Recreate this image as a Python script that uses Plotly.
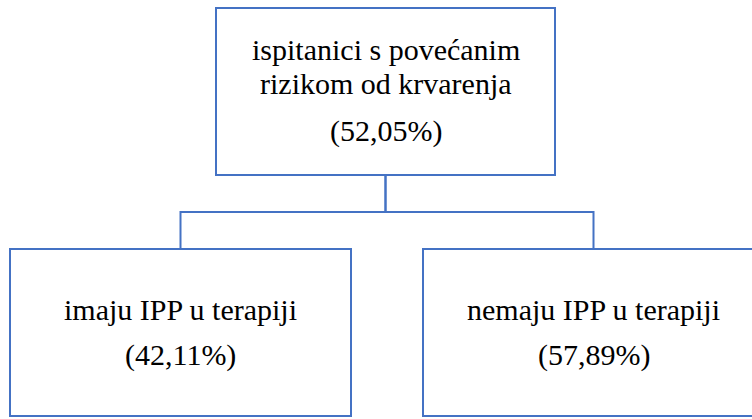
import plotly.graph_objects as go

# ---- data ----
node_titles = [["ispitanici s povećanim", "rizikom od krvarenja"],
               ["imaju IPP u terapiji"],
               ["nemaju IPP u terapiji"]]
node_percent = [52.05, 42.11, 57.89]
node_parent = [None, 0, 0]

# ---- layout constants (pixel space) ----
W, H = 752, 419
boxes = [(216, 8, 555, 175), (10, 249, 351, 416), (423, 249, 764, 416)]
title_baselines = [[60, 94], [320], [320]]
pct_baselines = [141, 365, 365]
bus_y = 212
LINE = "#4472C4"
FS = 30
FONT = dict(family="Liberation Serif, Times New Roman", size=FS, color="black")


def fmt(p):
    return "(" + f"{p:.2f}".replace(".", ",") + "%)"


fig = go.Figure()
fig.add_trace(go.Scatter(x=[0, W], y=[0, H], mode="markers",
                         marker=dict(opacity=0), hoverinfo="skip", showlegend=False))

shapes = []
for (x0, y0, x1, y1) in boxes:
    shapes.append(dict(type="rect", x0=x0, y0=y0, x1=x1, y1=y1,
                       line=dict(color=LINE, width=2), fillcolor="white", layer="below"))

# connectors
for i, par in enumerate(node_parent):
    if par is None:
        continue
    px = (boxes[par][0] + boxes[par][2]) / 2
    py = boxes[par][3]
    cx = (boxes[i][0] + boxes[i][2]) / 2
    cy = boxes[i][1]
    shapes.append(dict(type="path", path=f"M {px},{py} L {px},{bus_y} L {cx},{bus_y} L {cx},{cy}",
                       line=dict(color=LINE, width=2), layer="below"))

annotations = []
off = 0.34 * FS
for i, lines in enumerate(node_titles):
    cx = (boxes[i][0] + boxes[i][2]) / 2
    for t, b in zip(lines, title_baselines[i]):
        annotations.append(dict(x=cx, y=b - off, text=t, showarrow=False,
                                xanchor="center", yanchor="middle", font=FONT))
    annotations.append(dict(x=cx, y=pct_baselines[i] - off, text=fmt(node_percent[i]),
                            showarrow=False, xanchor="center", yanchor="middle", font=FONT))

fig.update_layout(
    width=W, height=H, margin=dict(l=0, r=0, t=0, b=0),
    paper_bgcolor="white", plot_bgcolor="white",
    xaxis=dict(range=[0, W], visible=False, fixedrange=True),
    yaxis=dict(range=[H, 0], visible=False, fixedrange=True),
    shapes=shapes, annotations=annotations, showlegend=False,
)
fig.write_html("out.html", config={"displayModeBar": False},
               post_script="document.body.style.margin='0';")
